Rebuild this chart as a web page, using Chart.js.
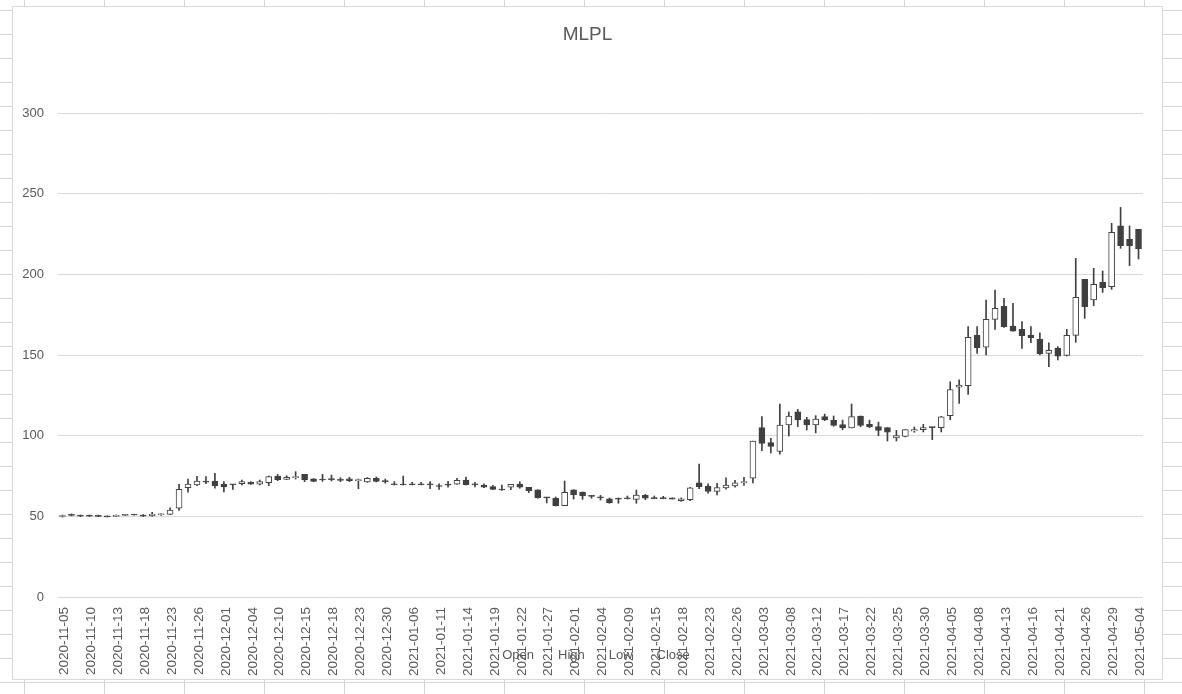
<!DOCTYPE html>
<html>
<head>
<meta charset="utf-8">
<title>MLPL</title>
<script src="https://cdn.jsdelivr.net/npm/chart.js@4.4.0/dist/chart.umd.min.js"></script>
<style>
  html, body { margin: 0; padding: 0; }
  body {
    width: 1182px; height: 694px; overflow: hidden; position: relative;
    background-color: #fff;
    background-image: linear-gradient(to right, #d4d4d4 1px, transparent 1px),
                      linear-gradient(to bottom, #d4d4d4 1px, transparent 1px);
    background-size: 80px 24px;
    background-position: 24px 10px;
  }
  #box {
    position: absolute; left: 12px; top: 6px;
    width: 1149px; height: 672px;
    border: 1px solid #d9d9d9; background: #fff;
  }
</style>
</head>
<body>
<div id="box"><canvas id="chart"></canvas></div>
<script>
// dates (every 3rd one is shown on the axis)
const dates = [
  "2020-11-05","2020-11-06","2020-11-09","2020-11-10","2020-11-11","2020-11-12",
  "2020-11-13","2020-11-14","2020-11-17","2020-11-18","2020-11-19","2020-11-20",
  "2020-11-23","2020-11-24","2020-11-25","2020-11-26","2020-11-27","2020-11-30",
  "2020-12-01","2020-12-02","2020-12-03","2020-12-04","2020-12-07","2020-12-08",
  "2020-12-10","2020-12-11","2020-12-14","2020-12-15","2020-12-16","2020-12-17",
  "2020-12-18","2020-12-21","2020-12-22","2020-12-23","2020-12-24","2020-12-28",
  "2020-12-30","2020-12-31","2021-01-04","2021-01-06","2021-01-07","2021-01-08",
  "2021-01-11","2021-01-12","2021-01-13","2021-01-14","2021-01-15","2021-01-18",
  "2021-01-19","2021-01-20","2021-01-21","2021-01-22","2021-01-25","2021-01-26",
  "2021-01-27","2021-01-28","2021-01-29","2021-02-01","2021-02-02","2021-02-03",
  "2021-02-04","2021-02-05","2021-02-08","2021-02-09","2021-02-10","2021-02-11",
  "2021-02-15","2021-02-16","2021-02-17","2021-02-18","2021-02-19","2021-02-22",
  "2021-02-23","2021-02-24","2021-02-25","2021-02-26","2021-03-01","2021-03-02",
  "2021-03-03","2021-03-04","2021-03-05","2021-03-08","2021-03-09","2021-03-10",
  "2021-03-12","2021-03-15","2021-03-16","2021-03-17","2021-03-18","2021-03-19",
  "2021-03-22","2021-03-23","2021-03-24","2021-03-25","2021-03-26","2021-03-29",
  "2021-03-30","2021-03-31","2021-04-01","2021-04-05","2021-04-06","2021-04-07",
  "2021-04-08","2021-04-09","2021-04-12","2021-04-13","2021-04-14","2021-04-15",
  "2021-04-16","2021-04-19","2021-04-20","2021-04-21","2021-04-22","2021-04-23",
  "2021-04-26","2021-04-27","2021-04-28","2021-04-29","2021-04-30","2021-05-03",
  "2021-05-04"
];

const open = [
  49.9,51.2,50.4,50.3,50.3,50.0,50.0,50.5,51.3,50.4,50.4,51.0,
  51.2,55.0,67.8,69.4,71.8,71.9,70.0,69.9,70.2,71.0,70.0,70.9,
  75.0,72.9,74.0,76.0,73.3,72.9,73.2,72.9,73.3,72.1,71.3,73.6,
  72.1,69.8,70.0,70.0,70.0,69.8,68.8,69.6,70.0,72.5,70.2,69.4,
  68.4,66.9,68.0,70.0,68.0,66.5,61.8,61.2,56.6,66.5,65.1,63.0,
  61.8,60.9,61.2,61.4,60.5,63.0,61.6,61.6,61.4,59.7,60.3,70.7,
  68.8,65.5,67.6,68.8,70.9,73.6,105.0,95.7,90.3,106.6,114.7,109.9,
  106.6,111.8,109.7,106.8,104.8,112.2,107.0,105.7,105.0,98.6,99.6,102.9,
  103.7,105.4,105.0,112.4,130.0,131.0,162.2,154.8,172.1,180.2,168.0,165.9,
  162.4,159.7,151.0,154.3,149.8,162.2,196.9,184.1,195.0,192.4,230.0,221.7,
  227.9
];
const high = [
  50.8,51.5,50.8,50.8,50.8,50.2,50.9,51.3,51.3,51.1,52.5,51.5,
  55.3,69.8,73.1,74.8,74.6,76.7,71.5,69.9,72.5,71.5,72.5,75.0,
  76.0,75.2,77.7,76.0,73.4,76.0,75.6,74.0,74.2,73.1,74.0,74.4,
  73.1,71.5,75.0,71.1,71.0,71.5,70.2,71.7,73.6,74.4,71.1,70.2,
  69.2,69.4,69.8,71.5,68.0,66.5,61.8,62.0,71.9,66.5,65.1,63.0,
  63.0,61.4,61.4,62.6,66.3,63.6,62.6,62.4,61.4,61.4,68.0,82.4,
  70.2,70.5,73.8,72.3,74.2,96.7,111.8,98.3,119.6,114.7,116.3,111.4,
  112.4,113.4,112.2,109.7,119.6,112.2,109.6,108.4,105.0,103.3,103.7,105.4,
  107.0,105.4,112.0,133.4,134.6,167.6,167.6,184.1,190.3,185.1,182.0,170.7,
  167.6,163.8,157.6,155.2,165.9,209.9,196.9,203.7,202.1,231.6,241.5,230.0,
  227.9
];
const low = [
  49.5,50.3,49.8,49.8,49.8,49.6,49.8,50.4,50.7,49.9,50.0,50.6,
  51.0,53.7,64.9,69.0,70.2,67.4,65.1,66.7,69.4,69.8,69.4,69.0,
  72.1,72.8,73.1,71.5,71.5,71.7,71.9,71.5,71.5,67.1,71.1,71.3,
  70.5,69.4,69.4,69.4,69.4,67.1,66.7,68.0,69.8,69.4,68.2,67.8,
  66.5,66.1,66.5,67.4,64.7,61.2,58.3,56.4,56.6,60.7,60.5,61.2,
  60.1,58.1,58.1,60.7,58.1,60.3,60.9,60.9,60.7,59.3,59.7,67.1,
  64.3,63.2,66.9,68.0,69.2,70.7,90.7,89.3,88.6,99.8,105.6,103.5,
  101.7,109.3,105.8,103.7,104.8,105.6,105.0,100.0,96.7,96.7,99.2,102.1,
  102.3,97.5,102.3,109.9,120.0,125.6,151.0,150.0,165.9,167.1,164.7,154.1,
  157.6,150.0,142.8,146.9,149.4,157.9,172.7,180.6,188.8,190.7,216.1,205.4,
  209.5
];
const close = [
  50.2,50.6,50.1,50.1,50.0,49.7,50.3,51.2,50.8,50.1,51.4,51.2,
  53.9,66.7,70.0,71.9,71.2,69.0,68.2,69.5,71.5,70.0,71.5,74.6,
  72.7,74.2,74.4,72.5,71.7,72.5,72.8,72.3,72.1,72.4,73.6,71.7,
  71.5,69.6,69.4,69.6,69.6,69.6,68.5,69.3,72.3,69.6,69.6,68.0,
  66.7,66.3,69.8,68.0,65.9,61.6,61.4,56.6,64.9,63.4,62.6,62.4,
  61.4,58.3,60.7,60.9,63.2,61.2,60.9,60.9,60.7,60.9,67.6,68.4,
  65.5,67.8,69.4,70.7,71.5,96.7,95.2,93.4,106.6,112.2,109.7,106.6,
  110.3,109.7,106.4,104.8,111.8,106.4,105.4,103.3,102.1,100.0,103.7,103.7,
  105.0,105.0,111.6,128.6,131.3,160.9,154.5,172.1,178.9,167.6,164.7,162.0,
  160.7,150.8,152.9,149.2,162.2,185.7,180.0,193.8,191.7,226.0,217.8,217.8,
  215.7
];

const seriesNames = ["Open", "High", "Low", "Close"];
const yTicks = [0, 50, 100, 150, 200, 250, 300];

const ink = "#404040";
const textColor = "#595959";
const font = '"Liberation Sans", Arial, sans-serif';

// candle bodies and wicks as floating bars
const bodies = dates.map((d, i) => [open[i], close[i]]);
const wicks = dates.map((d, i) => [low[i], high[i]]);
const bodyColors = dates.map((d, i) => close[i] >= open[i] ? "#ffffff" : ink);

// legend of the stock series, drawn over the axis labels like in Excel
const seriesLegend = {
  id: "seriesLegend",
  afterDraw(chart) {
    const ctx = chart.ctx;
    ctx.save();
    ctx.font = "13px " + font;
    ctx.fillStyle = textColor;
    ctx.textBaseline = "middle";
    ctx.textAlign = "left";
    const gap = 24;
    const widths = seriesNames.map(n => ctx.measureText(n).width);
    const total = widths.reduce((a, b) => a + b, 0) + gap * (seriesNames.length - 1);
    let x = 583 - total / 2;
    seriesNames.forEach((n, i) => {
      ctx.fillText(n, x, 648);
      x += widths[i] + gap;
    });
    ctx.restore();
  }
};

new Chart(document.getElementById("chart"), {
  type: "bar",
  data: {
    labels: dates,
    datasets: [
      {
        label: "body",
        data: bodies,
        backgroundColor: bodyColors,
        borderColor: ink,
        borderWidth: 1,
        borderSkipped: false,
        barThickness: 6,
        minBarLength: 1,
        grouped: false,
        order: 0
      },
      {
        label: "wick",
        data: wicks,
        backgroundColor: ink,
        borderWidth: 0,
        barThickness: 1,
        grouped: false,
        order: 1
      }
    ]
  },
  options: {
    responsive: true,
    maintainAspectRatio: false,
    animation: false,
    layout: { padding: 0 },
    plugins: {
      legend: { display: false },
      tooltip: { enabled: false },
      title: {
        display: true,
        text: "MLPL",
        color: textColor,
        font: { family: font, size: 19, weight: "normal" },
        padding: { top: 16.5, bottom: 66.7 }
      }
    },
    scales: {
      x: {
        grid: { display: false },
        border: { display: false },
        ticks: {
          autoSkip: false,
          minRotation: 90,
          maxRotation: 90,
          padding: 2,
          labelOffset: 2,
          color: textColor,
          font: { family: font, size: 13.5 },
          callback: function (v, i) { return i % 3 === 0 ? dates[i] : null; }
        },
        afterFit: function (s) { s.height = 82; }
      },
      y: {
        min: 0,
        max: 300,
        border: { display: false },
        grid: { color: "#d9d9d9", drawTicks: false },
        afterBuildTicks: function (s) { s.ticks = yTicks.map(v => ({ value: v })); },
        ticks: {
          padding: 14,
          color: textColor,
          font: { family: font, size: 13 }
        },
        afterFit: function (s) { s.width = 45; }
      },
      // empty right axis, keeps the right margin without moving the title
      yRight: {
        position: "right",
        min: 0,
        max: 300,
        border: { display: false },
        grid: { display: false },
        ticks: { display: false },
        afterFit: function (s) { s.width = 19; }
      }
    }
  },
  plugins: [seriesLegend]
});
</script>
</body>
</html>
